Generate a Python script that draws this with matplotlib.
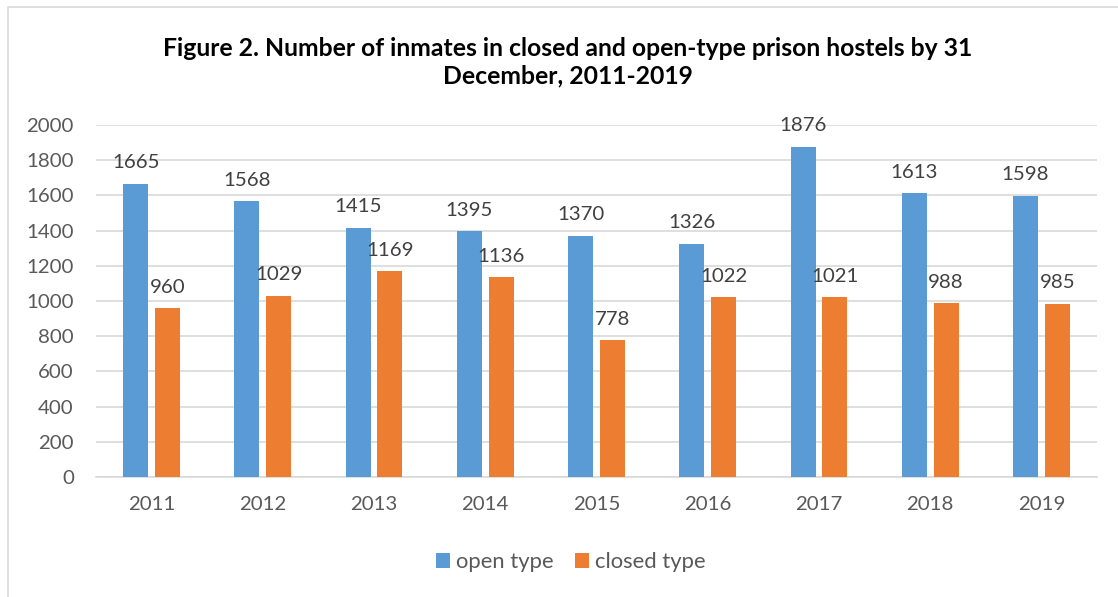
import matplotlib
matplotlib.use('Agg')
import matplotlib.pyplot as plt
import numpy as np
from matplotlib.patches import Rectangle

years = ['2011', '2012', '2013', '2014', '2015', '2016', '2017', '2018', '2019']
open_type = [1665, 1568, 1415, 1395, 1370, 1326, 1876, 1613, 1598]
closed_type = [960, 1029, 1169, 1136, 778, 1022, 1021, 988, 985]

plt.rcParams['font.family'] = ['Lato', 'DejaVu Sans']
grey = '#595959'
blue = '#5B9BD5'
orange = '#ED7D31'

fig = plt.figure(figsize=(11.18, 5.97), dpi=100)
ax = fig.add_axes([96/1118, 1-477/597, (1097-96)/1118, (477-125)/597])

x = np.arange(len(years))
w = 0.225
off = 0.1425
b1 = ax.bar(x - off, open_type, w, color=blue, label='open type', zorder=3)
b2 = ax.bar(x + off, closed_type, w, color=orange, label='closed type', zorder=3)

# data labels over the bars
for bars in (b1, b2):
    for b in bars:
        ax.annotate(str(int(b.get_height())), (b.get_x() + b.get_width()/2, b.get_height()),
                    xytext=(0, 9), textcoords='offset points', ha='center', va='bottom',
                    fontsize=14.7, color='#404040')

ax.set_xlim(-0.5, len(years) - 0.5)
ax.set_ylim(0, 2000)
ax.set_yticks(range(0, 2001, 200))
ax.set_xticks(x)
ax.set_xticklabels(years)
ax.tick_params(axis='both', length=0, labelsize=14.7, labelcolor=grey)
ax.tick_params(axis='x', pad=14)
ax.tick_params(axis='y', pad=16)
ax.yaxis.grid(True, color='#D9D9D9', linewidth=1.2, zorder=0)
for s in ['top', 'right', 'left']:
    ax.spines[s].set_visible(False)
ax.spines['bottom'].set_color('#D9D9D9')
ax.spines['bottom'].set_linewidth(1.2)

fig.text(0.508, 1-62/597, 'Figure 2. Number of inmates in closed and open-type prison hostels by 31\nDecember, 2011-2019',
         ha='center', va='center', fontsize=17.8, fontweight='bold', color='black', linespacing=1.22)

leg = fig.legend(handles=[b1, b2], loc='center', bbox_to_anchor=(0.5107, 1-562/597), ncol=2,
                 frameon=False, fontsize=15.8, handlelength=0.65, handleheight=0.65,
                 handletextpad=0.28, columnspacing=0.95)
for t in leg.get_texts():
    t.set_color(grey)

# outer frame of the chart box
fig.patches.append(Rectangle((8/1118, -0.1), 1.2, 1.1 - 7/597, transform=fig.transFigure,
                             fill=False, edgecolor='#D9D9D9', linewidth=1.2))

fig.savefig('out.png', dpi=100)
